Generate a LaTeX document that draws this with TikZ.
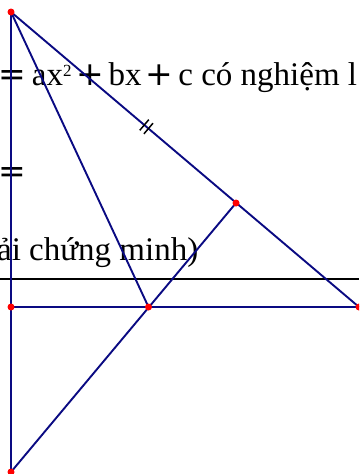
\documentclass[tikz,border=0pt]{standalone}
\usepackage{fontspec}
\setmainfont{Liberation Serif}
\newfontfamily\symfont{DejaVu Sans}
\usetikzlibrary{calc}
\definecolor{navyc}{RGB}{10,10,130}
\begin{document}
\begin{tikzpicture}[x=1pt,y=-1pt,
  seg/.style={draw=navyc, line width=1.9pt},
  dotp/.style={circle, fill=red, inner sep=0pt, minimum size=7pt},
  txt/.style={font=\fontsize{33}{40}\selectfont, inner sep=0pt, anchor=base west},
  tick/.style={draw=black, line width=1.5pt}]
\useasboundingbox (0,0) rectangle (359,474);
\clip (0,0) rectangle (359,474);
% texts
\node[txt] (t1) at (-1.6,85) {{\symfont =}\hspace{5.7pt}ax\raisebox{8.5pt}{\fontsize{17}{17}\selectfont 2}\hspace{4.5pt}{\symfont +}\hspace{5pt}bx\hspace{4.2pt}{\symfont +}\hspace{4.8pt}c có nghiệm l};
\node[txt] (t2) at (-1.3,182) {{\symfont =}};
\node[txt, anchor=base east] (t3) at (198.5,260) {phải chứng minh)};
% points
\coordinate (A) at (11,12);
\coordinate (B) at (11,307);
\coordinate (M) at (148.5,307);
\coordinate (C) at (359,307);
\coordinate (D) at (11,472);
\coordinate (E) at (236,203);
\coordinate (L1) at (0,279);
\coordinate (L2) at (359,279);
% black line
\draw[line width=1.1pt] (L1) -- (L2);
% blue segments
\draw[seg] (A) -- (D);
\draw[seg] (B) -- (C);
\draw[seg] (A) -- (C);
\draw[seg] (A) -- (M);
\draw[seg] (D) -- (E);
% ticks
\draw[tick] ($(A)!0.383!(C)$) ++(-4.5,5.3) -- ++(9,-10.6);
\draw[tick] ($(A)!0.395!(C)$) ++(-4.5,5.3) -- ++(9,-10.6);
% dots
\foreach \p in {A,B,M,C,D,E} \node[dotp] (d\p) at (\p) {};
\end{tikzpicture}
\end{document}
